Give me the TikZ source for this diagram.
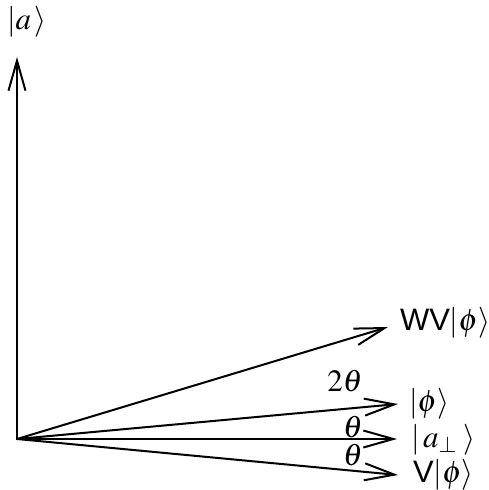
\documentclass[tikz,border=0pt]{standalone}
\usepackage{mathptmx}
\usepackage{fontspec}
\setsansfont{Liberation Sans}
\usetikzlibrary{arrows.meta}
\tikzset{lbl/.style={anchor=west,inner sep=0pt}, ang/.style={inner sep=0pt}}
\begin{document}
\begin{tikzpicture}[x=1pt,y=-1pt,>={Straight Barb[length=30pt,width=17pt]}, line width=2pt, line join=round, line cap=round,
  font=\fontsize{31}{36}\selectfont]
				\useasboundingbox (0,0) rectangle (489,490);
				\coordinate (O) at (17,439);
				\coordinate (a) at (17,57); % |a>
				\coordinate (wv) at (388,327);
				\coordinate (phi) at (398,404);
				\coordinate (aperp) at (397,439);
				\coordinate (v) at (398,475);
				\draw[->] (O)--(a);
				\draw[->] (O)--(wv);
				\draw[->] (O)--(phi);
				\draw[->] (O)--(aperp);
				\draw[->] (O)--(v);
				\node (la) [lbl] at (6,22) {$|a\,\rangle$};
				\node (lwv) [lbl] at (399,323) {\textsf{WV}$|\phi\rangle$};
				\node (lphi) [lbl] at (408,404) {$|\phi\rangle$};
				\node (laperp) [lbl] at (410,440) {$|\,a_{\perp}\;\rangle$};
				\node (lv) [lbl] at (412,475) {\textsf{V}$|\phi\rangle$};
				\node (t2) [ang] at (345,381) {$2\theta$};
				\node (t1) [ang] at (353,427) {$\theta$};
				\node (t3) [ang] at (353,455) {$\theta$};
\end{tikzpicture}
\end{document}
